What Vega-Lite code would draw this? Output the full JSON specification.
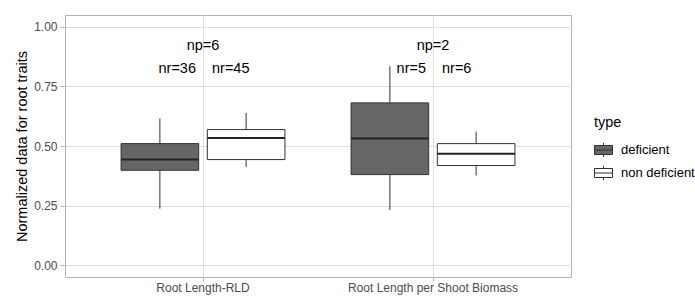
{
  "$schema": "https://vega.github.io/schema/vega-lite/v6.json",
  "autosize": "none",
  "width": 506,
  "height": 262,
  "padding": {"left": 65, "top": 15, "right": 124, "bottom": 19},
  "background": "white",
  "config": {
    "font": "Liberation Sans",
    "view": {"stroke": "#b3b3b3", "strokeWidth": 1}
  },
  "datasets": {
    "boxes": [
      {"trait": "Root Length-RLD", "type": "deficient", "lower": 0.237, "q1": 0.398, "median": 0.443, "q3": 0.510, "upper": 0.615, "nr": "nr=36"},
      {"trait": "Root Length-RLD", "type": "non deficient", "lower": 0.413, "q1": 0.443, "median": 0.534, "q3": 0.569, "upper": 0.639, "nr": "nr=45"},
      {"trait": "Root Length per Shoot Biomass", "type": "deficient", "lower": 0.231, "q1": 0.380, "median": 0.531, "q3": 0.681, "upper": 0.835, "nr": "nr=5"},
      {"trait": "Root Length per Shoot Biomass", "type": "non deficient", "lower": 0.376, "q1": 0.418, "median": 0.467, "q3": 0.510, "upper": 0.560, "nr": "nr=6"}
    ],
    "np": [
      {"trait": "Root Length-RLD", "np": "np=6"},
      {"trait": "Root Length per Shoot Biomass", "np": "np=2"}
    ]
  },
  "encoding": {
    "x": {
      "field": "trait",
      "type": "nominal",
      "sort": ["Root Length-RLD", "Root Length per Shoot Biomass"],
      "scale": {"domain": ["Root Length-RLD", "Root Length per Shoot Biomass"], "paddingInner": 0.25, "paddingOuter": 0.225},
      "axis": {
        "title": null,
        "labelAngle": 0,
        "labelFontSize": 12,
        "labelColor": "#4d4d4d",
        "labelPadding": 1,
        "labelBaseline": "top",
        "tickSize": 4,
        "tickColor": "#b3b3b3",
        "domain": false,
        "grid": true,
        "gridColor": "#e0e0e0",
        "gridWidth": 1,
        "bandPosition": 0.5
      }
    }
  },
  "layer": [
    {
      "data": {"name": "boxes"},
      "mark": {"type": "rule", "color": "#333333", "strokeWidth": 1},
      "encoding": {
        "xOffset": {"field": "type", "type": "nominal", "scale": {"domain": ["deficient", "non deficient"], "paddingInner": 0.1, "paddingOuter": 0.05}},
        "y": {
          "field": "lower",
          "type": "quantitative",
          "scale": {"domain": [-0.05, 1.05], "nice": false, "zero": false},
          "axis": {
            "title": "Normalized data for root traits",
            "titleFontSize": 14.5,
            "titleFontWeight": "normal",
            "titleColor": "#000000",
            "titlePadding": 4,
            "values": [0, 0.125, 0.25, 0.375, 0.5, 0.625, 0.75, 0.875, 1],
            "labelExpr": "datum.value % 0.25 == 0 ? format(datum.value, '.2f') : ''",
            "labelFontSize": 12,
            "labelColor": "#4d4d4d",
            "labelPadding": 3,
            "tickSize": 5,
            "tickColor": {"condition": {"test": "datum.value % 0.25 != 0", "value": "transparent"}, "value": "#b3b3b3"},
            "domain": false,
            "grid": true,
            "gridColor": {"condition": {"test": "datum.value % 0.25 != 0", "value": "#ebebeb"}, "value": "#dedede"},
            "gridWidth": 1
          }
        },
        "y2": {"field": "upper"}
      }
    },
    {
      "data": {"name": "boxes"},
      "mark": {"type": "bar", "stroke": "#333333", "strokeWidth": 1},
      "encoding": {
        "xOffset": {"field": "type", "type": "nominal"},
        "y": {"field": "q1", "type": "quantitative"},
        "y2": {"field": "q3"},
        "fill": {
          "field": "type",
          "type": "nominal",
          "scale": {"domain": ["deficient", "non deficient"], "range": ["#666666", "#ffffff"]},
          "legend": {
            "title": "type",
            "orient": "none",
            "legendX": 529,
            "legendY": 101,
            "titleFontSize": 14.5,
            "titleFontWeight": "normal",
            "titleColor": "#000000",
            "titlePadding": 10,
            "labelFontSize": 13,
            "labelColor": "#000000",
            "labelOffset": 8,
            "rowPadding": 4,
            "symbolType": "M-1,-0.5H1V0.5H-1Z M-1,0H1 M0,-0.5V-0.8 M0,0.5V0.8",
            "symbolSize": 324,
            "symbolStrokeColor": "#333333",
            "symbolStrokeWidth": 1
          }
        }
      }
    },
    {
      "data": {"name": "boxes"},
      "mark": {"type": "bar", "fill": null, "stroke": "#222222", "strokeWidth": 2},
      "encoding": {
        "xOffset": {"field": "type", "type": "nominal"},
        "y": {"field": "median", "type": "quantitative"},
        "y2": {"field": "median"}
      }
    },
    {
      "data": {"name": "np"},
      "mark": {"type": "text", "fontSize": 14.5, "color": "#000000", "baseline": "middle", "align": "center"},
      "encoding": {
        "y": {"datum": 0.918, "type": "quantitative"},
        "text": {"field": "np"}
      }
    },
    {
      "data": {"name": "boxes"},
      "transform": [{"filter": "datum.type == 'deficient'"}],
      "mark": {"type": "text", "fontSize": 14.5, "color": "#000000", "baseline": "middle", "align": "right", "dx": -7},
      "encoding": {
        "y": {"datum": 0.822, "type": "quantitative"},
        "text": {"field": "nr"}
      }
    },
    {
      "data": {"name": "boxes"},
      "transform": [{"filter": "datum.type == 'non deficient'"}],
      "mark": {"type": "text", "fontSize": 14.5, "color": "#000000", "baseline": "middle", "align": "left", "dx": 9},
      "encoding": {
        "y": {"datum": 0.822, "type": "quantitative"},
        "text": {"field": "nr"}
      }
    }
  ]
}
